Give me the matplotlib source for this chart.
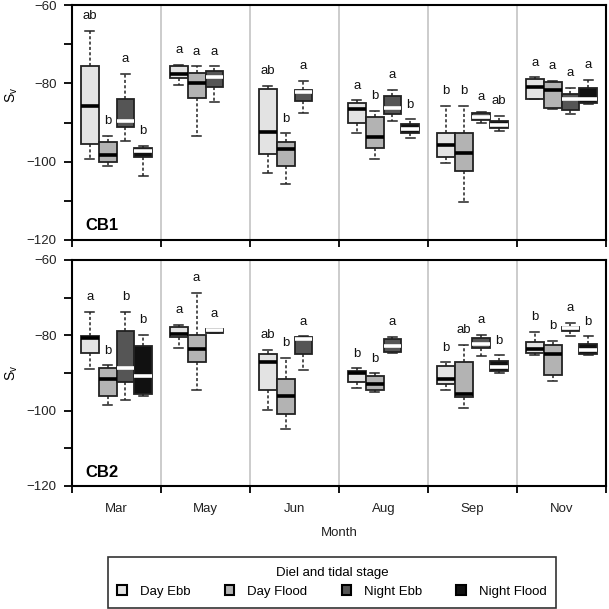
import numpy as np
import matplotlib.pyplot as plt
from matplotlib.patches import Patch

plt.rcParams['font.family'] = ['Liberation Sans', 'DejaVu Sans']

months = ['Mar', 'May', 'Jun', 'Aug', 'Sep', 'Nov']
stages = ['Day Ebb', 'Day Flood', 'Night Ebb', 'Night Flood']
nan = np.nan

# rows = stage (Day Ebb, Day Flood, Night Ebb, Night Flood), cols = month
cb1_hi = [[-66.6, -75.2, -80.7, -84.3, -85.8, -78.5],
          [-93.4, -75.6, -92.8, -87.0, -85.8, -79.3],
          [-77.6, -75.6, -79.3, -81.7, -87.3, -81.1],
          [-95.9, nan, nan, -89.2, -88.3, -79.1]]
cb1_q3 = [[-75.6, -75.7, -81.5, -85.1, -92.6, -79.0],
          [-95.1, -77.3, -94.9, -88.7, -92.6, -79.6],
          [-84.1, -76.8, -81.7, -83.2, -87.5, -82.8],
          [-96.4, nan, nan, -90.5, -89.6, -81.3]]
cb1_med = [[-85.8, -77.6, -92.3, -86.6, -95.7, -81.0],
           [-98.3, -79.8, -96.8, -93.6, -97.7, -81.7],
           [-89.5, -78.3, -82.2, -86.4, -88.6, -84.0],
           [-97.4, nan, nan, -91.7, -90.6, -84.0]]
cb1_q1 = [[-95.6, -78.6, -98.1, -90.0, -98.9, -84.1],
          [-100.0, -83.8, -101.0, -96.4, -102.4, -86.4],
          [-91.2, -81.0, -84.5, -87.9, -89.4, -86.8],
          [-98.7, nan, nan, -92.8, -91.5, -85.1]]
cb1_lo = [[-99.4, -80.4, -102.8, -92.8, -100.3, -84.1],
          [-101.1, -93.4, -105.8, -99.3, -110.3, -86.6],
          [-94.6, -84.7, -87.5, -89.6, -90.0, -87.8],
          [-103.7, nan, nan, -93.9, -92.2, -85.2]]
cb1_letters = [['ab', 'a', 'ab', 'a', 'b', 'a'],
               ['b', 'a', 'b', 'b', 'b', 'a'],
               ['a', 'a', 'a', 'a', 'a', 'a'],
               ['b', '', '', 'b', 'ab', 'a']]

cb2_hi = [[-73.8, -77.2, -83.9, -88.8, -87.2, -79.0],
          [-88.0, -68.7, -85.9, -90.1, -82.5, -81.4],
          [-73.7, -78.3, -80.3, -80.4, -79.9, -76.7],
          [-79.9, nan, nan, nan, -85.3, -80.3]]
cb2_q3 = [[-80.2, -77.7, -85.0, -89.5, -88.1, -81.9],
          [-88.6, -79.8, -91.7, -90.8, -87.2, -82.5],
          [-78.8, -78.3, -80.5, -81.0, -80.8, -77.7],
          [-82.8, nan, nan, nan, -86.8, -82.3]]
cb2_med = [[-80.8, -79.7, -87.0, -90.1, -91.7, -83.7],
           [-91.7, -83.7, -96.2, -92.9, -95.5, -85.0],
           [-88.8, -78.6, -81.0, -82.8, -82.3, -78.1],
           [-90.8, nan, nan, nan, -88.3, -83.9]]
cb2_q1 = [[-84.6, -80.4, -94.6, -92.4, -92.8, -84.7],
          [-96.2, -87.1, -100.8, -94.4, -96.5, -90.4],
          [-92.3, -79.4, -85.0, -84.3, -83.4, -78.8],
          [-95.5, nan, nan, nan, -89.5, -85.0]]
cb2_lo = [[-88.9, -83.4, -99.9, -93.9, -94.4, -85.2],
          [-98.4, -94.4, -104.9, -95.1, -99.3, -92.2],
          [-97.3, -79.4, -89.2, -84.8, -85.6, -80.3],
          [-96.2, nan, nan, nan, -90.1, -85.2]]
cb2_letters = [['a', 'a', 'ab', 'b', 'b', 'b'],
               ['b', 'a', 'b', 'b', 'ab', 'b'],
               ['b', 'a', 'a', 'a', 'a', 'a'],
               ['b', '', '', '', 'b', 'b']]

fills = ['#e3e3e3', '#b3b3b3', '#555555', '#111111']
med_cols = ['black', 'black', 'white', 'white']
offsets = [-0.3, -0.1, 0.1, 0.3]
edge = '#222222'


def draw_panel(ax, hi, q3, med, q1, lo, letters, name, show_months):
    for x in np.arange(0.5, 5, 1):
        ax.axvline(x, color='#c4c4c4', lw=1.2, zorder=0)
    for s in range(4):
        stats, pos = [], []
        for m in range(6):
            if np.isnan(med[s][m]):
                continue
            stats.append(dict(med=med[s][m], q1=q1[s][m], q3=q3[s][m],
                              whislo=lo[s][m], whishi=hi[s][m], fliers=[]))
            pos.append(m + offsets[s])
            ax.annotate(letters[s][m], (m + offsets[s], hi[s][m]), xytext=(0, 10.5),
                        textcoords='offset points', ha='center', va='center',
                        fontsize=9.5, color='#111')
        ax.bxp(stats, positions=pos, widths=0.2, capwidths=0.1, patch_artist=True,
               showfliers=False,
               boxprops=dict(facecolor=fills[s], edgecolor=edge, linewidth=1.3),
               medianprops=dict(color=med_cols[s], linewidth=2.6, solid_capstyle='butt'),
               whiskerprops=dict(color=edge, linestyle=(0, (2, 1.5)), linewidth=1.1),
               capprops=dict(color=edge, linewidth=1.1))
    ax.set_xlim(-0.5, 5.5)
    ax.set_ylim(-120, -60)
    ax.set_xticks(np.arange(-0.5, 6, 1))
    ax.set_xticklabels([])
    ax.set_xticks(range(6), minor=True)
    ax.set_xticklabels(months if show_months else [''] * 6, minor=True)
    ax.tick_params(axis='x', which='major', length=5, width=1.3, direction='out')
    ax.tick_params(axis='x', which='minor', length=0, pad=12, labelsize=9.5,
                   labelcolor='#222')
    ax.set_yticks([-120, -100, -80, -60])
    ax.set_yticks([-110, -90, -70], minor=True)
    ax.tick_params(axis='y', which='both', length=6, width=1.3, pad=5,
                   labelsize=9.5, labelcolor='#222')
    for sp in ax.spines.values():
        sp.set_linewidth(1.5)
    ax.text(0.025, 0.06, name, transform=ax.transAxes, fontsize=12,
            fontweight='bold', ha='left', va='center')


fig = plt.figure(figsize=(6.09, 6.09), dpi=100)
ax1 = fig.add_axes([72 / 609, 1 - 240 / 609, 534 / 609, 235 / 609])
ax2 = fig.add_axes([72 / 609, 1 - 486 / 609, 534 / 609, 226 / 609])

draw_panel(ax1, cb1_hi, cb1_q3, cb1_med, cb1_q1, cb1_lo, cb1_letters, 'CB1', False)
draw_panel(ax2, cb2_hi, cb2_q3, cb2_med, cb2_q1, cb2_lo, cb2_letters, 'CB2', True)

ylab = 'S$_\\mathregular{v}$'
fig.text(12 / 609, 1 - 95 / 609, ylab, rotation=90, ha='center', va='center', fontsize=10)
fig.text(12 / 609, 1 - 373 / 609, ylab, rotation=90, ha='center', va='center', fontsize=10)
fig.text(339 / 609, 1 - 533 / 609, 'Month', ha='center', va='center', fontsize=9.5,
         color='#222')

handles = [Patch(facecolor=c, edgecolor='black', linewidth=1.5) for c in fills]
leg = fig.legend(handles, stages, ncol=4, title='Diel and tidal stage',
                 loc='upper center', bbox_to_anchor=(332 / 609, 1 - 557 / 609),
                 fontsize=9.5, title_fontsize=9.5, frameon=True, fancybox=False,
                 handlelength=0.7, handleheight=0.7, handletextpad=1.0,
                 columnspacing=2.6, borderpad=0.75, borderaxespad=0.0,
                 edgecolor='black')
leg.get_frame().set_linewidth(1.2)

fig.savefig('out.png', dpi=100)
